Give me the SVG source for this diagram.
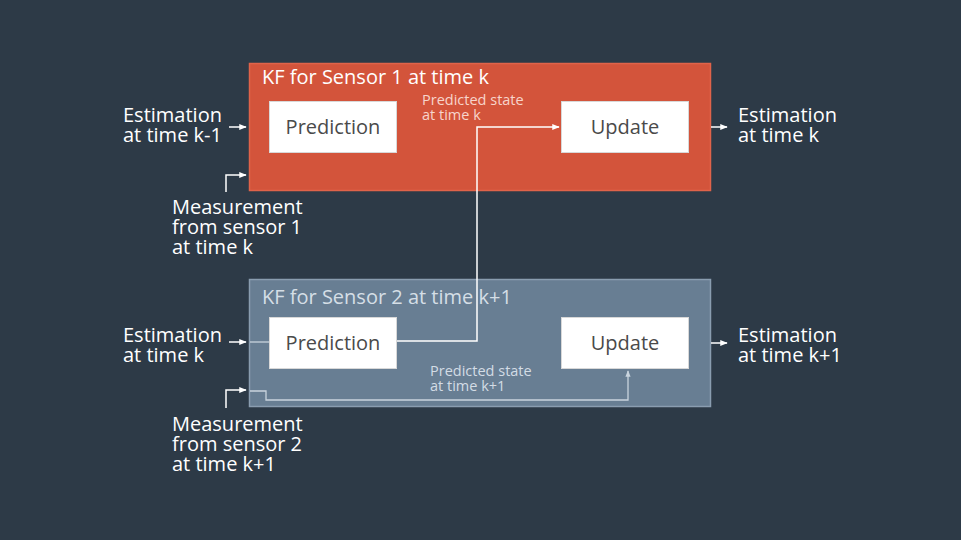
<svg xmlns="http://www.w3.org/2000/svg" width="961" height="540" viewBox="0 0 961 540">
<defs>
<style>
text{font-family:"Open Sans","Noto Sans","DejaVu Sans",sans-serif}
.lbl{fill:#ffffff;font-size:20px}
.box{fill:#ffffff;stroke:#d8d8d8;stroke-width:1}
.btxt{fill:#4a4a4a;font-size:20px;text-anchor:middle}
.w{stroke:#ffffff;stroke-width:1.5;fill:none}
.bl{stroke:#c9d4de;stroke-width:1.3;fill:none}
.ps1{font-size:14.5px;fill:#f7d5cc}
.ps2{font-size:14.5px;fill:#d3dce5}
</style>
<marker id="ah" viewBox="0 0 10 10" refX="9" refY="5" markerWidth="5" markerHeight="5" orient="auto"><path d="M0,1 L10,5 L0,9 z" fill="#ffffff"/></marker>
<marker id="ahb" viewBox="0 0 10 10" refX="9" refY="5" markerWidth="5" markerHeight="5" orient="auto"><path d="M0,1 L10,5 L0,9 z" fill="#c9d4de"/></marker>
</defs>
<rect width="961" height="540" fill="#2d3a47"/>

<g id="kf1">
<rect x="249.5" y="63.5" width="461" height="127" fill="#d3543b" stroke="#e0634a" stroke-width="1.5"/>
<text x="262" y="84" style="font-size:20px;fill:#ffffff">KF for Sensor 1 at time k</text>
</g>
<g id="kf2">
<rect x="249.5" y="279.5" width="461" height="127" fill="#687e93" stroke="#8a9db0" stroke-width="1.5"/>
<text x="262" y="304" style="font-size:20px;fill:#d5dee6">KF for Sensor 2 at time k+1</text>
</g>

<g id="connectors">
<line class="w" x1="229" y1="127" x2="246" y2="127" marker-end="url(#ah)"/>
<path class="w" d="M226,192 V175 H246" marker-end="url(#ah)"/>
<line class="w" x1="711" y1="127" x2="727" y2="127" marker-end="url(#ah)"/>
<path class="w" d="M397,341 H477 V127 H559" marker-end="url(#ah)"/>
<line class="w" x1="229" y1="342" x2="246" y2="342" marker-end="url(#ah)"/>
<line class="bl" x1="250" y1="342" x2="269" y2="342"/>
<path class="w" d="M226,408 V390 H246" marker-end="url(#ah)"/>
<path class="bl" d="M250,391 H266 V400 H628 V371" marker-end="url(#ahb)"/>
<line class="w" x1="711" y1="343" x2="727" y2="343" marker-end="url(#ah)"/>
</g>

<g id="prediction1">
<rect class="box" x="269.5" y="101.5" width="127" height="51"/>
<text class="btxt" x="333" y="134">Prediction</text>
</g>
<g id="update1">
<rect class="box" x="561.5" y="101.5" width="127" height="51"/>
<text class="btxt" x="625" y="134">Update</text>
</g>
<g id="prediction2">
<rect class="box" x="269.5" y="317.5" width="127" height="51"/>
<text class="btxt" x="333" y="350">Prediction</text>
</g>
<g id="update2">
<rect class="box" x="561.5" y="317.5" width="127" height="51"/>
<text class="btxt" x="625" y="350">Update</text>
</g>

<g id="labels">
<text class="lbl" x="123" y="122">Estimation</text>
<text class="lbl" x="123" y="142">at time k-1</text>
<text class="lbl" x="172" y="214">Measurement</text>
<text class="lbl" x="172" y="234">from sensor 1</text>
<text class="lbl" x="172" y="254">at time k</text>
<text class="ps1" x="422" y="105">Predicted state</text>
<text class="ps1" x="422" y="120">at time k</text>
<text class="lbl" x="738" y="122">Estimation</text>
<text class="lbl" x="738" y="142">at time k</text>
<text class="lbl" x="123" y="342">Estimation</text>
<text class="lbl" x="123" y="362">at time k</text>
<text class="lbl" x="172" y="431">Measurement</text>
<text class="lbl" x="172" y="451">from sensor 2</text>
<text class="lbl" x="172" y="471">at time k+1</text>
<text class="ps2" x="430" y="376">Predicted state</text>
<text class="ps2" x="430" y="391">at time k+1</text>
<text class="lbl" x="738" y="342">Estimation</text>
<text class="lbl" x="738" y="362">at time k+1</text>
</g>
</svg>
